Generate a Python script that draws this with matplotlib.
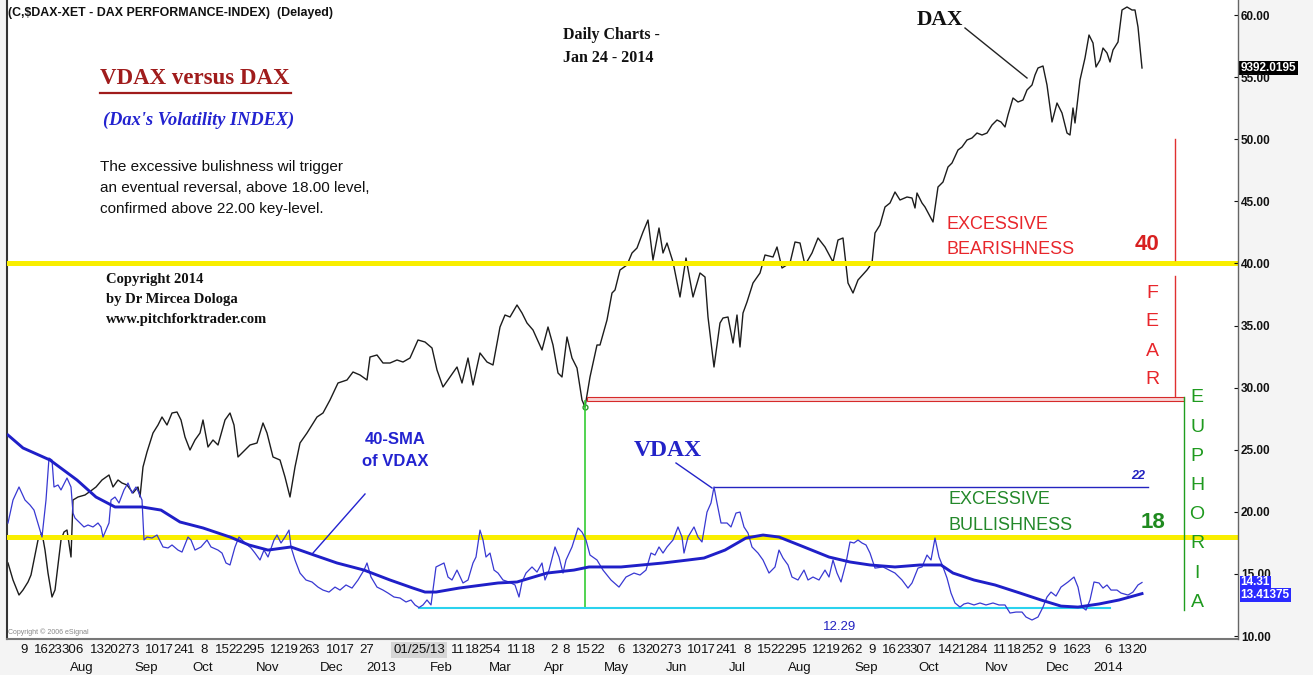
import datetime as dt
import numpy as np
import matplotlib
matplotlib.use("Agg")
import matplotlib.pyplot as plt
from matplotlib.lines import Line2D
from matplotlib.patches import Rectangle
from matplotlib.transforms import ScaledTranslation

plt.rcParams['font.family'] = ['Liberation Sans', 'DejaVu Sans']

# ---------------- data (chart-day units since 2012-07-09) ----------------
dax_day = [-7, -4.5, -1.5, 0.5, 3, 4.5, 6.5, 8, 10, 11.5,
           13, 15, 16.5, 18, 19.5, 21, 22.5, 24.5, 25.5, 28,
           31.5, 35, 37, 40, 43.5, 45.5, 48, 50, 52.5, 55.5,
           58, 59, 60.5, 62.5, 65.5, 68, 70, 72.5, 75, 77.5,
           79.5, 81.5, 84, 86.5, 89, 90.5, 93, 95.5, 98, 101.5,
           104, 106, 108, 111.5, 114, 117.5, 120.5, 122.5, 125.5, 129,
           131.5, 134, 136.5, 139, 142.5, 145, 147.5, 150.5, 154, 158,
           162.5, 165.5, 169, 172.5, 174, 177.5, 180.5, 184, 187.5, 190.5,
           194, 198, 201.5, 205, 207.5, 210.5, 214, 217.5, 220, 223,
           225.5, 229, 232.5, 235.5, 239, 241.5, 244, 247.5, 250, 252.5,
           255.5, 260, 263, 265.5, 268, 270, 272.5, 275, 277.5, 280,
           281.5, 284, 287.5, 289, 292.5, 295, 296.5, 299, 302.5, 305,
           307.5, 310.5, 313, 315.5, 318.5, 320.5, 322.5, 325.5, 329, 332,
           335.5, 339, 341.5, 343, 346, 349, 350.5, 353, 355.5, 357.5,
           359, 360.5, 362.5, 365.5, 369, 371.5, 375.5, 377.5, 380, 384,
           386.5, 389, 391.5, 395, 398, 401.5, 405.5, 408, 410.5, 413,
           415.5, 418, 422.5, 425, 426.5, 429, 431.5, 434, 436.5, 439,
           442.5, 445, 446.5, 447.5, 450, 451.5, 455.5, 458, 460.5, 463,
           465, 468, 470, 472.5, 475, 477.5, 480, 482.5, 485, 487.5,
           489.5, 491.5, 493, 495.5, 498, 500.5, 502.5, 505, 506.5, 508,
           510.5, 512.5, 515, 517.5, 520, 522.5, 524, 525.5, 526.5, 529,
           531.5, 533.5, 535.5, 537, 539, 540.5, 542.5, 544, 545.5, 548,
           550, 552.5, 555, 556.5, 558, 560]
dax_close = [6422, 6320, 6230, 6260, 6308, 6350, 6470, 6560, 6602, 6500,
             6362, 6218, 6260, 6410, 6560, 6608, 6620, 6458, 6800, 6818,
             6830, 6860, 6878, 6920, 6950, 6878, 6920, 6902, 6890, 6842,
             6878, 6818, 6998, 7088, 7202, 7250, 7298, 7250, 7322, 7328,
             7280, 7178, 7100, 7160, 7202, 7280, 7118, 7160, 7130, 7280,
             7322, 7250, 7058, 7100, 7130, 7142, 7262, 7202, 7058, 7040,
             6938, 6818, 6998, 7142, 7202, 7250, 7298, 7322, 7400, 7502,
             7520, 7568, 7550, 7520, 7658, 7670, 7622, 7622, 7640, 7628,
             7652, 7760, 7748, 7712, 7580, 7478, 7538, 7598, 7502, 7652,
             7490, 7682, 7628, 7610, 7838, 7910, 7898, 7970, 7922, 7862,
             7820, 7700, 7838, 7730, 7562, 7538, 7778, 7652, 7592, 7400,
             7358, 7538, 7730, 7730, 7880, 8042, 8060, 8180, 8210, 8282,
             8312, 8408, 8480, 8240, 8432, 8282, 8342, 8228, 8018, 8252,
             8018, 8162, 8138, 7898, 7598, 7862, 7892, 7898, 7742, 7910,
             7718, 7922, 7988, 8102, 8162, 8270, 8258, 8318, 8192, 8222,
             8348, 8342, 8210, 8282, 8372, 8318, 8228, 8360, 8372, 8102,
             8042, 8120, 8180, 8222, 8402, 8450, 8558, 8582, 8648, 8600,
             8618, 8612, 8552, 8642, 8582, 8558, 8468, 8678, 8708, 8798,
             8822, 8900, 8918, 8960, 8972, 9002, 8990, 9002, 9050, 9080,
             9068, 9038, 9110, 9212, 9188, 9200, 9260, 9290, 9350, 9392,
             9404, 9290, 9068, 9182, 9122, 9002, 8990, 9152, 9062, 9320,
             9452, 9590, 9542, 9398, 9440, 9512, 9482, 9428, 9500, 9548,
             9740, 9758, 9740, 9740, 9638, 9392.0195]

vdax_day = [-7, -4.5, -1.5, 1.5, 4, 6, 9, 10, 12, 13.5,
            15, 16, 18, 19.5, 22.5, 24.5, 25.5, 26.5, 29, 31,
            33, 35.5, 38, 39.5, 40.5, 43.5, 44.5, 46.5, 48.5, 51,
            53, 55, 57, 58.5, 60, 61, 62.5, 65, 67.5, 70.5,
            73, 75, 78, 80, 83, 84.5, 86.5, 89.5, 92.5, 94.5,
            98, 100, 102, 104, 106.5, 108.5, 111.5, 114.5, 116.5, 119,
            121, 123, 126, 127.5, 129.5, 131.5, 133.5, 134.5, 136.5, 139,
            142, 145, 148, 150.5, 153.5, 156.5, 159, 162, 165, 168,
            171, 172.5, 174.5, 177.5, 180.5, 183, 186, 189, 192, 194.5,
            196.5, 198.5, 200.5, 202.5, 204.5, 205.5, 207, 209, 211, 213,
            215, 217.5, 220.5, 223, 225.5, 227, 229, 230.5, 232, 234,
            236, 238, 240.5, 243.5, 246.5, 248.5, 250, 252, 255, 257.5,
            260, 261.5, 263.5, 266.5, 268.5, 270.5, 272, 275, 278, 280,
            282, 284, 287.5, 290.5, 294.5, 298.5, 302, 306, 309, 312,
            314.5, 316.5, 318.5, 320.5, 322.5, 325.5, 328, 330, 331, 333,
            336, 338, 340, 342.5, 344.5, 346, 347.5, 349.5, 352.5, 354.5,
            357, 359, 361, 363, 365, 368, 370.5, 373.5, 376.5, 378.5,
            380.5, 383, 385, 388, 391, 393, 395.5, 398.5, 401.5, 403.5,
            405.5, 407.5, 409.5, 412, 414, 416, 418, 420, 422, 424,
            426.5, 430.5, 433.5, 436.5, 440, 443, 445, 448, 450, 452.5,
            454.5, 456.5, 458.5, 460.5, 462.5, 464.5, 466.5, 469, 471, 473,
            476, 479, 482, 485.5, 488.5, 491.5, 494, 497, 500, 502,
            505, 508, 510.5, 512.5, 514.5, 517, 519.5, 523, 526, 528,
            530, 532, 534, 536, 538.5, 540.5, 542.5, 544.5, 547.5, 549.5,
            553, 555.5, 558, 560]
vdax_close = [19.10, 20.95, 22.00, 20.95, 20.55, 20.14, 18.53, 17.97, 20.95, 24.33,
              24.17, 22.00, 22.16, 21.76, 22.72, 22.00, 19.90, 19.50, 19.10, 18.78,
              18.94, 18.78, 19.10, 18.78, 17.97, 19.10, 20.95, 21.19, 20.71, 21.76,
              22.32, 21.51, 22.00, 21.51, 20.95, 17.73, 17.97, 17.89, 18.13, 17.17,
              17.09, 17.33, 16.92, 16.76, 17.97, 17.73, 16.92, 17.17, 17.73, 17.17,
              16.92, 16.68, 15.88, 15.72, 17.17, 17.97, 17.49, 17.09, 16.68, 16.12,
              16.92, 16.36, 17.73, 18.13, 17.49, 17.97, 18.53, 17.17, 16.12, 15.07,
              14.51, 14.35, 13.94, 13.70, 13.54, 13.94, 13.70, 14.11, 13.86, 14.51,
              15.31, 15.88, 14.75, 13.94, 13.70, 13.46, 13.14, 13.06, 12.74, 12.90,
              12.50, 12.29, 12.50, 12.90, 12.50, 13.70, 15.56, 15.72, 15.88, 14.75,
              14.51, 15.31, 14.27, 14.51, 15.88, 16.36, 18.53, 17.73, 16.36, 16.68,
              15.31, 15.07, 14.51, 14.35, 14.11, 13.14, 14.35, 15.07, 15.56, 15.15,
              15.88, 14.51, 15.31, 17.17, 16.36, 15.07, 16.12, 17.17, 18.70, 18.37,
              17.73, 16.52, 16.12, 15.31, 14.51, 13.94, 14.75, 15.07, 14.91, 15.31,
              16.68, 16.52, 17.17, 16.68, 17.17, 17.73, 18.78, 17.97, 16.68, 17.97,
              18.78, 17.97, 17.57, 19.98, 20.71, 22.00, 20.71, 19.10, 19.10, 18.78,
              19.90, 19.98, 18.78, 18.29, 17.17, 16.68, 16.12, 15.07, 15.56, 16.92,
              16.28, 15.72, 14.75, 14.51, 15.31, 14.51, 14.75, 14.51, 15.31, 14.75,
              16.12, 15.07, 14.35, 15.88, 17.57, 17.49, 17.73, 17.49, 17.33, 16.68,
              15.47, 15.56, 15.31, 15.07, 14.51, 13.86, 14.27, 15.47, 15.56, 16.52,
              16.12, 17.89, 16.36, 15.56, 14.67, 13.46, 12.66, 12.33, 12.58, 12.66,
              12.50, 12.66, 12.50, 12.66, 12.50, 12.50, 11.85, 11.93, 11.93, 11.53,
              11.29, 11.53, 12.33, 13.14, 13.54, 13.22, 13.94, 14.35, 14.75, 13.94,
              12.33, 12.09, 12.90, 14.35, 14.27, 13.86, 14.11, 13.70, 13.70, 13.46,
              13.30, 13.54, 14.11, 14.31]

sma_day = [-7, 0.5, 14, 27.5, 37, 46.5, 60, 69.5, 79, 90.5,
           104, 113.5, 123, 134.5, 146, 157.5, 171, 184, 195.5, 201.5,
           207, 218.5, 238, 247.5, 262.5, 276, 283.5, 299.5, 310, 320.5,
           333, 341, 351.5, 362, 370.5, 378.5, 391, 403.5, 414, 424,
           436.5, 449, 459.5, 465.5, 476, 486.5, 499, 509.5, 519.5, 528,
           538.5, 548.5, 560]
sma_value = [26.18, 25.14, 24.17, 22.56, 21.19, 20.39, 20.39, 20.14, 19.18, 18.70,
             17.97, 17.33, 16.92, 17.17, 16.52, 15.88, 15.31, 14.51, 13.86, 13.54,
             13.54, 13.86, 14.27, 14.35, 15.07, 15.31, 15.56, 15.56, 15.72, 15.88,
             16.12, 16.28, 16.92, 17.89, 18.13, 17.97, 17.17, 16.36, 15.96, 15.72,
             15.56, 15.72, 15.72, 15.07, 14.51, 14.11, 13.46, 12.90, 12.41, 12.33,
             12.58, 12.90, 13.41375]

vdax_ticks = [10, 15, 20, 25, 30, 35, 40, 45, 50, 55, 60]
fear_level = 40
euphoria_level = 18
confirm_level = 22
vdax_low = 12.29
dax_low_band = (28.95, 29.25)

base_date = dt.date(2012, 7, 9)
week_dates = ["2012-07-09", "2012-07-16", "2012-07-23", "2012-07-30", "2012-08-06",
              "2012-08-13", "2012-08-20", "2012-08-27", "2012-09-03", "2012-09-10",
              "2012-09-17", "2012-09-24", "2012-10-01", "2012-10-08", "2012-10-15",
              "2012-10-22", "2012-10-29", "2012-11-05", "2012-11-12", "2012-11-19",
              "2012-11-26", "2012-12-03", "2012-12-10", "2012-12-17", "2012-12-27",
              "2013-02-11", "2013-02-18", "2013-02-25", "2013-03-04", "2013-03-11",
              "2013-03-18", "2013-04-02", "2013-04-08", "2013-04-15", "2013-04-22",
              "2013-05-06", "2013-05-13", "2013-05-20", "2013-05-27", "2013-06-03",
              "2013-06-10", "2013-06-17", "2013-06-24", "2013-07-01", "2013-07-08",
              "2013-07-15", "2013-07-22", "2013-07-29", "2013-08-05", "2013-08-12",
              "2013-08-19", "2013-08-26", "2013-09-02", "2013-09-09", "2013-09-16",
              "2013-09-23", "2013-09-30", "2013-10-07", "2013-10-14", "2013-10-21",
              "2013-10-28", "2013-11-04", "2013-11-11", "2013-11-18", "2013-11-25",
              "2013-12-02", "2013-12-09", "2013-12-16", "2013-12-23", "2014-01-06",
              "2014-01-13", "2014-01-20"]
cursor_date = "2013-01-25"
month_names = ["Aug", "Sep", "Oct", "Nov", "Dec", "2013", "Feb", "Mar", "Apr", "May",
               "Jun", "Jul", "Aug", "Sep", "Oct", "Nov", "Dec", "2014"]
month_pos = [30, 62, 90.5, 123, 155, 179.5, 209.5, 239, 266, 297,
             327.5, 357.5, 389, 422, 453.5, 487.5, 518, 543]

# trading-calendar compression of the chart's time axis
COMPRESS = 0.993


def chart_x(datestr):
    d = dt.date.fromisoformat(datestr)
    return (d - base_date).days * COMPRESS


# ---------------- figure ----------------
W, H = 1313, 675
fig = plt.figure(figsize=(W / 100, H / 100), dpi=100, facecolor='#f4f4f4')
AX_L, AX_R, AX_T, AX_B = 7, 1238, 0, 639
ax = fig.add_axes([AX_L / W, 1 - AX_B / H, (AX_R - AX_L) / W, (AX_B - AX_T) / H])
ax.set_facecolor('white')
ax.set_xlim(-7.5, 608)
ax.set_ylim(5966, 9800)
ax.plot(dax_day, dax_close, color='#1c1c1c', lw=1.0, zorder=2)
ax.set_yticks([])
ax.set_xticks([])
for s in ['top', 'right']:
    ax.spines[s].set_visible(False)
ax.spines['left'].set_color('#333333')
ax.spines['left'].set_linewidth(1.5)
ax.spines['bottom'].set_color('#777777')
ax.spines['bottom'].set_linewidth(1.5)

axv = ax.twinx()
axv.set_ylim(9.76, 61.21)
for s in ['top', 'left', 'bottom']:
    axv.spines[s].set_visible(False)
axv.spines['right'].set_color('#666666')
axv.spines['right'].set_linewidth(1.0)
axv.set_yticks(vdax_ticks)
axv.set_yticklabels([f"{t:.2f}" for t in vdax_ticks])
axv.tick_params(axis='y', direction='in', length=3, pad=2, labelsize=8.5, colors='#111111')
for lab in axv.get_yticklabels():
    lab.set_fontweight('bold')

# yellow key levels
axv.axhline(fear_level, color='#f9ee00', lw=3.6, zorder=1)
axv.axhline(euphoria_level, color='#f9ee00', lw=3.6, zorder=1)

# VDAX and its 40-SMA
axv.plot(vdax_day, vdax_close, color='#3838d2', lw=0.9, zorder=4)
axv.plot(sma_day, sma_value, color='#1f1fc8', lw=2.1, zorder=5)

# DAX spring-2013 low: double red band, green verticals, red vertical
window = [i for i, d in enumerate(dax_day) if 250 <= d <= 320]
low_idx = min(window, key=lambda i: dax_close[i])
low_day = dax_day[low_idx]
band_end = 581
axv.add_patch(Rectangle((low_day + 1, dax_low_band[0]), band_end - low_day - 1,
                        dax_low_band[1] - dax_low_band[0], fc='#f7d4d4', ec='#d62a2a',
                        lw=0.8, zorder=3))
axv.plot([low_day, low_day], [vdax_low, dax_low_band[0]], color='#33cc33', lw=1.2, zorder=3)
axv.plot([band_end, band_end], [12.1, dax_low_band[1]], color='#1f9e1f', lw=1.0, zorder=3)
axv.plot([576.5, 576.5], [40.3, 50.0], color='#e03030', lw=1.0, zorder=3)
axv.plot([576.5, 576.5], [dax_low_band[1] + 0.1, 39.0], color='#e03030', lw=1.0, zorder=3)
ax.plot([low_day], [dax_close[low_idx]], marker='o', ms=3.5, mfc='none', mec='#2a9a2a', mew=1.0, zorder=3)

# 22 and 12.29 lines
peak_idx = int(np.argmax(vdax_close[100:])) + 100
axv.plot([vdax_day[peak_idx], 563], [confirm_level, confirm_level], color='#2424c0', lw=1.0, zorder=3)
low_v_idx = int(np.argmin(vdax_close[60:120])) + 60
axv.plot([vdax_day[low_v_idx], 544], [vdax_low, vdax_low], color='#2ad2ee', lw=1.5, zorder=3)

# price boxes on the right axis
ax.text(1.002, dax_close[-1], f"{dax_close[-1]:.4f}", transform=ax.get_yaxis_transform(),
        ha='left', va='center', fontsize=8.5, fontweight='bold', color='white', clip_on=False,
        zorder=10, bbox=dict(boxstyle='square,pad=0.12', fc='black', ec='none'))
axv.text(1.002, vdax_close[-1], f"{vdax_close[-1]:.2f}", transform=axv.get_yaxis_transform(),
         ha='left', va='center', fontsize=8.5, fontweight='bold', color='white', clip_on=False,
         zorder=10, bbox=dict(boxstyle='square,pad=0.08', fc='#2a2aff', ec='none'))
axv.text(1.002, sma_value[-1] - 0.11, f"{sma_value[-1]:.5f}".rstrip('0'), transform=axv.get_yaxis_transform(),
         ha='left', va='center', fontsize=8.5, fontweight='bold', color='white', clip_on=False,
         zorder=10, bbox=dict(boxstyle='square,pad=0.08', fc='#2a2aff', ec='none'))

# x-axis labels (two rows); eSignal starts each week label at its tick
xt = ax.get_xaxis_transform()
nudge = ScaledTranslation(-2 / 100, 0, fig.dpi_scale_trans)
row1 = (AX_B - 650) / (AX_B - AX_T)
row2 = (AX_B - 668) / (AX_B - AX_T)
for ds in week_dates:
    d = dt.date.fromisoformat(ds)
    ax.text(chart_x(ds), row1, str(d.day), transform=xt + nudge, ha='left', va='center',
            fontsize=9.5, color='#111111', clip_on=False)
ax.text(chart_x(cursor_date), row1, "01/25/13", transform=xt, ha='center', va='center',
        fontsize=9.5, color='#111111', clip_on=False, zorder=6,
        bbox=dict(boxstyle='square,pad=0.15', fc='#d6d6d6', ec='none'))
for name, pos in zip(month_names, month_pos):
    ax.text(pos, row2, name, transform=xt, ha='center', va='center', fontsize=9.5,
            color='#111111', clip_on=False)


# ---------------- annotations (figure pixel placement) ----------------
def ftext(px, py, s, **kw):
    kw.setdefault('va', 'center')
    return fig.text(px / W, 1 - py / H, s, **kw)


def fline(x1, y1, x2, y2, **kw):
    fig.add_artist(Line2D([x1 / W, x2 / W], [1 - y1 / H, 1 - y2 / H], transform=fig.transFigure, **kw))


SERIF = ['Liberation Serif', 'DejaVu Serif']
SANS = ['Liberation Sans', 'DejaVu Sans']

ftext(8, 13, "(C,$DAX-XET - DAX PERFORMANCE-INDEX)  (Delayed)", fontsize=8.9, fontweight='bold', color='#111111')
ftext(563, 35, "Daily Charts -", family=SERIF, fontsize=11.5, fontweight='bold', color='#111111')
ftext(563, 58, "Jan 24 - 2014", family=SERIF, fontsize=11.5, fontweight='bold', color='#111111')

ftext(100, 78, "VDAX versus DAX", family=SERIF, fontsize=16.5, fontweight='bold', color='#a01c1c')
fline(100, 93, 291, 93, color='#a01c1c', lw=1.6)
ftext(103, 120, "(Dax's Volatility INDEX)", family=SERIF, fontsize=13.2, fontweight='bold',
      style='italic', color='#2323d0')
for i, line in enumerate(["The excessive bulishness wil trigger",
                          "an eventual reversal, above 18.00 level,",
                          "confirmed above 22.00 key-level."]):
    ftext(100, 167 + 21 * i, line, fontsize=11, color='#111111')
for i, line in enumerate(["Copyright 2014", "by Dr Mircea Dologa", "www.pitchforktrader.com"]):
    ftext(106, 280 + 20 * i, line, family=SERIF, fontsize=10.5, fontweight='bold', color='#111111')

ftext(940, 20, "DAX", family=SERIF, fontsize=15.5, fontweight='bold', color='#111111', ha='center')
fline(965, 28, 1027, 78, color='#222222', lw=1.0)
ftext(668, 450, "VDAX", family=SERIF, fontsize=17, fontweight='bold', color='#2323c8', ha='center')
fline(676, 463, 712, 488, color='#2323c8', lw=1.0)
ftext(395, 440, "40-SMA", fontsize=12, fontweight='bold', color='#2323d0', ha='center')
ftext(395, 462, "of VDAX", fontsize=12, fontweight='bold', color='#2323d0', ha='center')
fline(365, 494, 313, 553, color='#2323d0', lw=1.0)

ftext(946, 225, "EXCESSIVE", family=SANS, fontsize=13, color='#e8262b')
ftext(946, 250, "BEARISHNESS", family=SANS, fontsize=13, color='#e8262b')
ftext(948, 500, "EXCESSIVE", family=SANS, fontsize=13, color='#23882a')
ftext(948, 525, "BULLISHNESS", family=SANS, fontsize=13, color='#23882a')
ftext(1147, 245, "40", family=SANS, fontsize=16, fontweight='bold', color='#d82020', ha='center')
ftext(1153, 522, "18", family=SANS, fontsize=16, fontweight='bold', color='#1f8a1f', ha='center')
ftext(1138, 476, "22", fontsize=9, fontweight='bold', style='italic', color='#2323c0', ha='center')
ftext(840, 627, "12.29", fontsize=9.5, color='#2323c0', ha='center')

for i, ch in enumerate("FEAR"):
    ftext(1152, 293 + 29 * i, ch, family=SANS, fontsize=14, color='#e8262b', ha='center')
for i, ch in enumerate("EUPHORIA"):
    ftext(1197, 398 + 29.2 * i, ch, family=SANS, fontsize=14, color='#1f9a1f', ha='center')

ftext(8, 632, "Copyright \u00a9 2006 eSignal", fontsize=5, color='#888888')

fig.savefig("out.png", dpi=100, facecolor=fig.get_facecolor())
